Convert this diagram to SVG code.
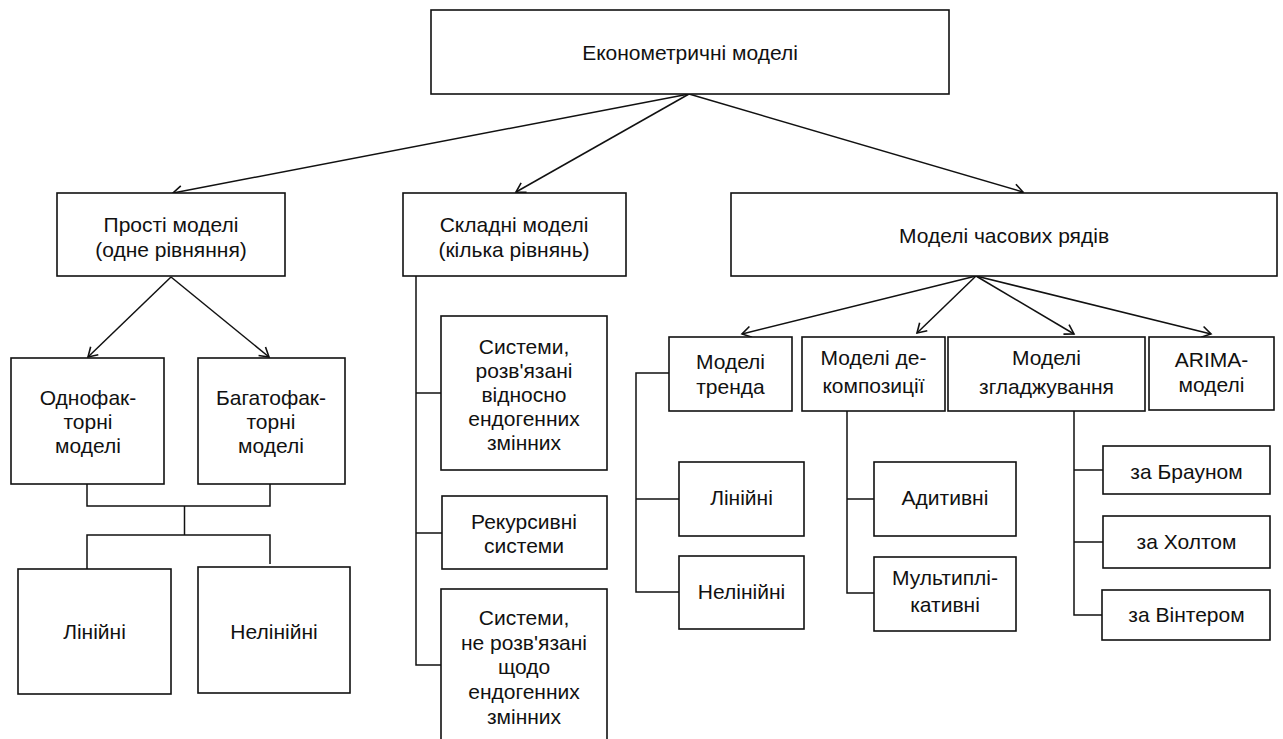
<svg xmlns="http://www.w3.org/2000/svg" width="1283" height="739" viewBox="0 0 1283 739">
<style>
.box{fill:#fff;stroke:#111;stroke-width:1.6}
.t{font-family:"Liberation Sans",Arial,sans-serif;font-size:21px;fill:#111;text-anchor:middle}
.ln{fill:none;stroke:#111;stroke-width:1.5}
.ar{fill:none;stroke:#111;stroke-width:1.5;marker-end:url(#ah)}
</style>
<defs>
<marker id="ah" markerUnits="userSpaceOnUse" markerWidth="14" markerHeight="14" viewBox="-12 -7 14 14" refX="0" refY="0" orient="auto">
<path d="M-9,-5.5 L0,0 L-9,5.5" fill="none" stroke="#111" stroke-width="1.6"/>
</marker>
</defs>
<rect width="1283" height="739" fill="#fff"/>
<g id="connectors">
<line class="ar" x1="689" y1="94" x2="173" y2="193"/>
<line class="ar" x1="689" y1="94" x2="516" y2="192"/>
<line class="ar" x1="689" y1="94" x2="1023" y2="192"/>
<line class="ar" x1="171" y1="277" x2="88" y2="357"/>
<line class="ar" x1="171" y1="277" x2="269" y2="357"/>
<polyline class="ln" points="87,484 87,506 270,506 270,484"/>
<line class="ln" x1="184.5" y1="506" x2="184.5" y2="535"/>
<polyline class="ln" points="87,569 87,535 270,535 270,564"/>
<polyline class="ln" points="416,276 416,665 441,665"/>
<line class="ln" x1="416" y1="393" x2="441" y2="393"/>
<line class="ln" x1="416" y1="533" x2="442" y2="533"/>
<line class="ar" x1="976" y1="276" x2="742" y2="334"/>
<line class="ar" x1="976" y1="276" x2="917" y2="333"/>
<line class="ar" x1="976" y1="276" x2="1074" y2="334"/>
<line class="ar" x1="976" y1="276" x2="1211" y2="334"/>
<polyline class="ln" points="669,373 636,373 636,592 680,592"/>
<line class="ln" x1="636" y1="499" x2="680" y2="499"/>
<polyline class="ln" points="847,411 847,593 874,593"/>
<line class="ln" x1="847" y1="499" x2="874" y2="499"/>
<polyline class="ln" points="1074,411 1074,615 1102,615"/>
<line class="ln" x1="1074" y1="470" x2="1103" y2="470"/>
<line class="ln" x1="1074" y1="542" x2="1103" y2="542"/>
</g>
<g id="n-root"><rect class="box" x="431" y="10" width="518" height="84"/><text class="t" x="690" y="60">Економетричні моделі</text></g>
<g id="n-simple"><rect class="box" x="57" y="193" width="228" height="83"/><text class="t" x="171" y="232">Прості моделі</text><text class="t" x="171" y="257">(одне рівняння)</text></g>
<g id="n-complex"><rect class="box" x="403" y="193" width="223" height="83"/><text class="t" x="514" y="232">Складні моделі</text><text class="t" x="514" y="257">(кілька рівнянь)</text></g>
<g id="n-ts"><rect class="box" x="731" y="193" width="546" height="83"/><text class="t" x="1004" y="243">Моделі часових рядів</text></g>
<g id="n-onefac"><rect class="box" x="11" y="358" width="153" height="126"/><text class="t" x="88" y="405">Однофак-</text><text class="t" x="88" y="429">торні</text><text class="t" x="88" y="453">моделі</text></g>
<g id="n-multifac"><rect class="box" x="198" y="358" width="147" height="126"/><text class="t" x="271" y="405">Багатофак-</text><text class="t" x="271" y="429">торні</text><text class="t" x="271" y="453">моделі</text></g>
<g id="n-lin1"><rect class="box" x="18" y="569" width="153" height="125"/><text class="t" x="94.5" y="639">Лінійні</text></g>
<g id="n-nonlin1"><rect class="box" x="198" y="567" width="152" height="126"/><text class="t" x="274" y="639">Нелінійні</text></g>
<g id="n-sys1"><rect class="box" x="441" y="316" width="166" height="154"/><text class="t" x="524" y="354">Системи,</text><text class="t" x="524" y="378">розв'язані</text><text class="t" x="524" y="402">відносно</text><text class="t" x="524" y="426">ендогенних</text><text class="t" x="524" y="450">змінних</text></g>
<g id="n-rec"><rect class="box" x="442" y="496" width="165" height="73"/><text class="t" x="524" y="529">Рекурсивні</text><text class="t" x="524" y="553">системи</text></g>
<g id="n-sys2"><rect class="box" x="441" y="589" width="166" height="160"/><text class="t" x="524" y="625">Системи,</text><text class="t" x="524" y="649.5">не розв'язані</text><text class="t" x="524" y="674">щодо</text><text class="t" x="524" y="699">ендогенних</text><text class="t" x="524" y="724">змінних</text></g>
<g id="n-trend"><rect class="box" x="669" y="337" width="123" height="74"/><text class="t" x="730.5" y="369">Моделі</text><text class="t" x="730.5" y="394">тренда</text></g>
<g id="n-decomp"><rect class="box" x="802" y="337" width="143" height="74"/><text class="t" x="873.5" y="365">Моделі де-</text><text class="t" x="873.5" y="393">композиції</text></g>
<g id="n-smooth"><rect class="box" x="948" y="337" width="197" height="74"/><text class="t" x="1046.5" y="365">Моделі</text><text class="t" x="1046.5" y="394">згладжування</text></g>
<g id="n-arima"><rect class="box" x="1149" y="337" width="125" height="73"/><text class="t" x="1211.5" y="367">ARIMA-</text><text class="t" x="1211.5" y="392">моделі</text></g>
<g id="n-lin2"><rect class="box" x="679" y="462" width="125" height="74"/><text class="t" x="741.5" y="505">Лінійні</text></g>
<g id="n-nonlin2"><rect class="box" x="679" y="556" width="125" height="73"/><text class="t" x="741.5" y="599">Нелінійні</text></g>
<g id="n-add"><rect class="box" x="874" y="462" width="142" height="74"/><text class="t" x="945" y="505">Адитивні</text></g>
<g id="n-mult"><rect class="box" x="874" y="557" width="142" height="74"/><text class="t" x="945" y="585">Мультиплі-</text><text class="t" x="945" y="612">кативні</text></g>
<g id="n-brown"><rect class="box" x="1103" y="446" width="167" height="48"/><text class="t" x="1186.5" y="479">за Брауном</text></g>
<g id="n-holt"><rect class="box" x="1103" y="516" width="167" height="52"/><text class="t" x="1186.5" y="549">за Холтом</text></g>
<g id="n-winter"><rect class="box" x="1102" y="590" width="168" height="50"/><text class="t" x="1186.5" y="622">за Вінтером</text></g>
</svg>
